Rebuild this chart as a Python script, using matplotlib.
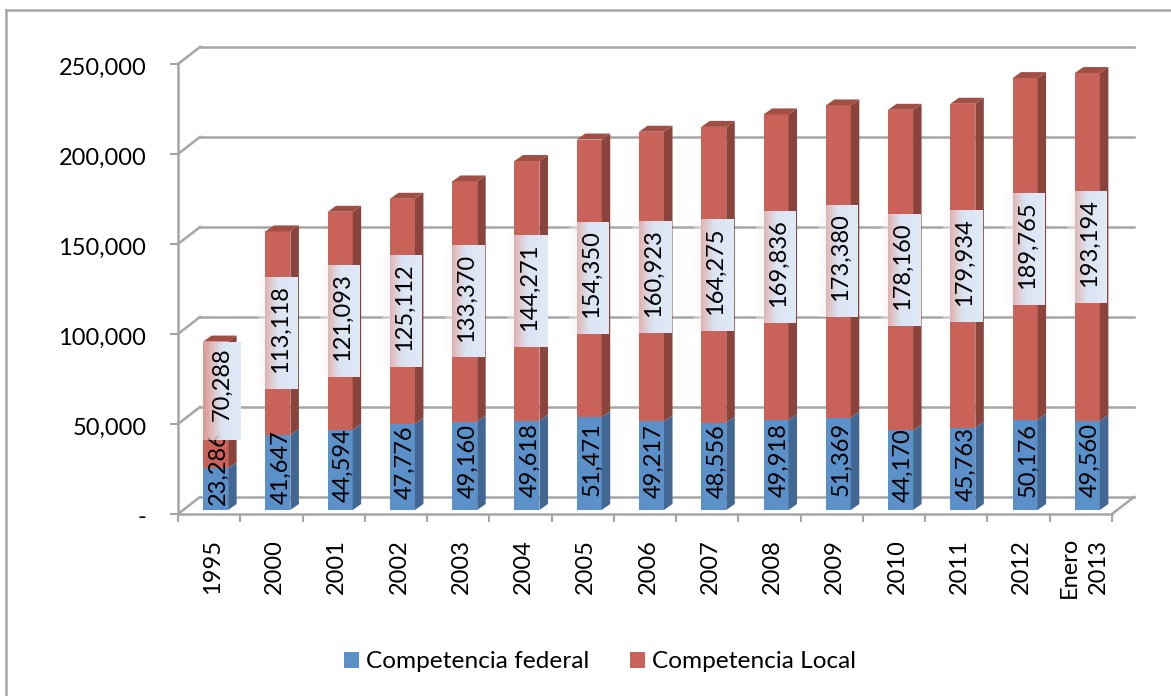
import numpy as np
import matplotlib
matplotlib.use('Agg')
import matplotlib.pyplot as plt
from matplotlib.lines import Line2D
from matplotlib.transforms import ScaledTranslation

# Values
years = ['1995', '2000', '2001', '2002', '2003', '2004', '2005', '2006', '2007',
         '2008', '2009', '2010', '2011', '2012', 'Enero\n2013']
federal = [23286, 41647, 44594, 47776, 49160, 49618, 51471, 49217, 48556,
           49918, 51369, 44170, 45763, 50176, 49560]
local = [70288, 113118, 121093, 125112, 133370, 144271, 154350, 160923, 164275,
         169836, 173380, 178160, 179934, 189765, 193194]
yticks = [0, 50000, 100000, 150000, 200000, 250000]

W, H = 1171, 696
GRAY = '#a6a6a6'
BLUE, BLUE_SIDE = '#5b90c9', '#426793'
RED, RED_SIDE, RED_TOP = '#c9635a', '#8b443b', '#a14e45'

plt.rcParams['font.family'] = ['Lato', 'DejaVu Sans']
plt.rcParams['font.size'] = 17

fig = plt.figure(figsize=(W / 100, H / 100), dpi=100)
# front plane of the fake 3D box: x 178..1112 px, y 514..64 px
ax = fig.add_axes([178 / W, 1 - 514 / H, (1112 - 178) / W, (514 - 64) / H])
ax.set_xlim(0, 15)
ax.set_ylim(0, 250000)

# one pixel in data units
px = 15 / (1112 - 178)
py = 250000 / (514 - 64)

for s in ['top', 'right']:
    ax.spines[s].set_visible(False)
for s in ['left', 'bottom']:
    ax.spines[s].set_color(GRAY)
    ax.spines[s].set_linewidth(1.8)

ax.set_xticks(range(16))
ax.set_xticklabels([])
ax.tick_params(axis='x', length=5.8, width=1.5, color=GRAY)
ax.set_yticks(yticks)
ax.set_yticklabels(['-' if v == 0 else f'{v:,}' for v in yticks])
ax.tick_params(axis='y', length=5.8, width=1.5, color=GRAY, pad=17)
for lab in ax.get_yticklabels():
    lab.set_transform(lab.get_transform() + ScaledTranslation(0, -2 / 100, fig.dpi_scale_trans))

# back wall gridlines and the side/floor diagonals
wall_x, wall_y = 22 * px, 17 * py
for v in yticks:
    ax.plot([wall_x, 15 + wall_x], [v + wall_y, v + wall_y], color=GRAY, lw=1.8, zorder=1, clip_on=False)
    ax.plot([0, wall_x], [v, v + wall_y], color=GRAY, lw=1.8, zorder=1, clip_on=False)
ax.plot([15, 15 + wall_x], [0, wall_y], color=GRAY, lw=1.8, zorder=1, clip_on=False)

# bars
x = np.arange(len(years)) + 0.5 + 6.5 * px
base = 4 * py
bar_w = 25 * px
dx, dy = 8.5 * px, 6 * py
fed = np.array(federal)
loc = np.array(local)

b1 = ax.bar(x, fed, bar_w, bottom=base, color=BLUE, label='Competencia federal', zorder=3, clip_on=False)
b2 = ax.bar(x, loc, bar_w, bottom=base + fed, color=RED, label='Competencia Local', zorder=3, clip_on=False)

for i in range(len(years)):
    r = x[i] + bar_w / 2
    l = x[i] - bar_w / 2
    y1 = base + fed[i]
    y2 = y1 + loc[i]
    ax.fill([r, r + dx, r + dx, r], [base, base + dy, y1 + dy, y1], color=BLUE_SIDE, lw=0, zorder=3, clip_on=False)
    ax.fill([r, r + dx, r + dx, r], [y1, y1 + dy, y2 + dy, y2], color=RED_SIDE, lw=0, zorder=3, clip_on=False)
    ax.fill([l, l + dx, r + dx, r], [y2, y2 + dy, y2 + dy, y2], color=RED_TOP, lw=0, zorder=3, clip_on=False)

# gradient behind the local labels: see-through on the left, pale blue on the right
grad = np.zeros((1, 64, 4))
t = np.linspace(0, 1, 64)
grad[0, :, 0] = np.interp(t, [0, 0.5, 1], [1.0, 0.855, 0.88])
grad[0, :, 1] = np.interp(t, [0, 0.5, 1], [0.97, 0.895, 0.915])
grad[0, :, 2] = np.interp(t, [0, 0.5, 1], [0.97, 0.955, 0.965])
grad[0, :, 3] = np.interp(t, [0, 0.17, 0.5, 1], [0.35, 0.55, 1, 1])

for i in range(len(years)):
    y1 = base + fed[i]
    mid_fed = base + fed[i] / 2 + 5 * py
    mid_loc = y1 + loc[i] / 2
    box_c = x[i]
    box_w = 40 * px
    box_h = 112 * py
    txt_x = x[i] + 3 * px
    lab_x = x[i] + 2 * px
    lab_y = mid_loc + 4 * py
    if i == 0:
        # first pair was moved by hand in the original
        mid_fed += 16 * py
        mid_loc += 14 * py
        box_c = x[i] + 6.5 * px
        box_w = 38 * px
        box_h = 98 * py
        lab_x = box_c
        lab_y = mid_loc + 7 * py
    ax.text(txt_x, mid_fed, f'{federal[i]:,}', rotation=90, ha='center', va='center', zorder=4, clip_on=False)
    ax.imshow(grad, extent=[box_c - box_w / 2, box_c + box_w / 2, mid_loc - box_h / 2, mid_loc + box_h / 2],
              aspect='auto', interpolation='bilinear', zorder=5, clip_on=False)
    ax.text(lab_x, lab_y, f'{local[i]:,}', rotation=90, ha='center', va='center', zorder=6, clip_on=False)

    ax.text(i + 0.5 + 3 * px, -53 * py, years[i], rotation=90, ha='center', va='center',
            multialignment='center', linespacing=1.45, clip_on=False)

ax.set_xlim(0, 15)
ax.set_ylim(0, 250000)

ax.legend(handles=[b1, b2], ncol=2, frameon=False, loc='center',
          bbox_to_anchor=(600 / W, 1 - 662 / H), bbox_transform=fig.transFigure, fontsize=17.6,
          handlelength=0.62, handleheight=0.62, handletextpad=0.3, columnspacing=1.65)

# outer frame, only left and top show
fig.add_artist(Line2D([6 / W, 6 / W], [0, 1 - 10 / H], color=GRAY, lw=1.8))
fig.add_artist(Line2D([6 / W, 1], [1 - 10 / H, 1 - 10 / H], color=GRAY, lw=1.8))

fig.savefig('out.png', dpi=100)
